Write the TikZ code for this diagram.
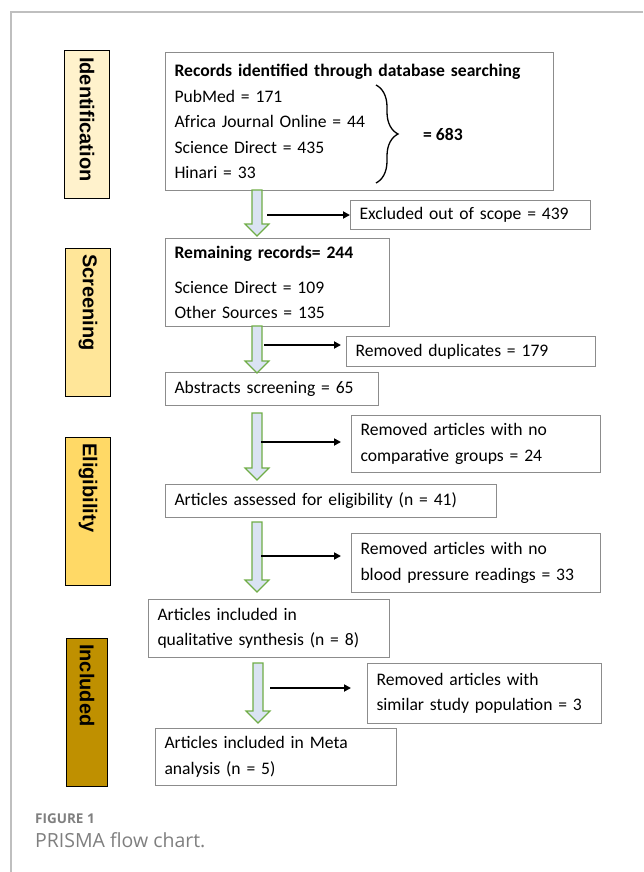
\documentclass[tikz,border=0pt]{standalone}
\usepackage{fontspec}
\setmainfont{Carlito}
\newfontfamily\labelfont{Liberation Sans}
\newfontfamily\capfont{Open Sans}
\usetikzlibrary{positioning,calc,arrows.meta,decorations.pathreplacing}
\tikzset{>={Triangle[length=7pt,width=7pt]}}
\definecolor{boxgray}{HTML}{8C8C8C}
\definecolor{framegray}{HTML}{BFBFBF}
\definecolor{capgray}{HTML}{7F7F7F}
\definecolor{idfill}{HTML}{FFF2CC}
\definecolor{scrfill}{HTML}{FFE699}
\definecolor{elifill}{HTML}{FFD966}
\definecolor{incfill}{HTML}{BF9000}
\definecolor{arrowgreen}{HTML}{70AD47}
\definecolor{arrowblue}{HTML}{DAE3F3}
\tikzset{
  box/.style={draw=boxgray,line width=1pt,anchor=north west,align=left,
    inner xsep=9pt,inner ysep=0pt,font=\fontsize{17.6}{25.5}\selectfont},
  stage/.style={draw=black,line width=1.2pt,anchor=north west,inner sep=0pt,
    minimum width=45pt,minimum height=148pt},
  stagetext/.style={rotate=-90,anchor=west,inner sep=0pt,
    font=\labelfont\bfseries\fontsize{20}{20}\selectfont},
  hollow/.style={draw=arrowgreen,fill=arrowblue,line width=1.2pt},
  side/.style={->,line width=2pt}
}
\newcommand\blockarrow[2]{%
  \draw[hollow] let \p1=(#1),\p2=(#2) in
    (\x1-5pt,\y1) -- (\x1-5pt,\y2+12pt) -- (\x1-12pt,\y2+12pt) -- (\x1,\y2)
    -- (\x1+12pt,\y2+12pt) -- (\x1+5pt,\y2+12pt) -- (\x1+5pt,\y1) -- cycle;}

\begin{document}
\begin{tikzpicture}[x=1pt,y=-1pt]
\useasboundingbox (0,0) rectangle (643,872);
\draw[framegray,line width=1.2pt] (643,12) -- (11,12) -- (11,872);

\node[stage,fill=idfill] (ident) at (64,50) {};
\node[stagetext] at ([yshift=-7pt]ident.north) {Identification};
\node[stage,fill=scrfill] (screen) at (65,248) {};
\node[stagetext] at ([yshift=-6pt]screen.north) {Screening};
\node[stage,fill=elifill] (elig) at (65,437) {};
\node[stagetext] at ([yshift=-6pt]elig.north) {Eligibility};
\node[stage,fill=incfill,minimum width=41pt] (incl) at (66,638) {};
\node[stagetext] at ([yshift=-6pt]incl.north) {Included};

\node[box,text width=370pt,minimum height=138pt] (rec) at (165,52)
  {{\bfseries Records identified through database searching}\\
   PubMed = 171\\ Africa Journal Online = 44\\ Science Direct = 435\\ Hinari = 33};
\coordinate (bt) at (376,85);
\coordinate (bb) at (376,183);
\draw[decorate,decoration={brace,amplitude=22pt},line width=1.3pt] (bt) -- (bb);
\node[anchor=west,inner sep=0pt,font=\bfseries\fontsize{17.6}{18}\selectfont] (total) at (423,134) {= 683};

\node[box,text width=222pt,minimum height=29pt] (excl) at (350,200) {Excluded out of scope = 439};
\node[box,text width=206pt,minimum height=88pt] (rem) at (165,238)
  {{\bfseries Remaining records= 244}\\[9pt] Science Direct = 109\\ Other Sources = 135};
\node[box,text width=231pt,minimum height=30pt] (dup) at (346,336) {Removed duplicates = 179};
\node[box,text width=195pt,minimum height=33pt] (abs) at (165,372) {Abstracts screening = 65};
\node[box,text width=231pt,minimum height=57pt] (comp) at (351,415)
  {Removed articles with no\\ comparative groups = 24};
\node[box,text width=313pt,minimum height=33pt] (assess) at (165,484) {Articles assessed for eligibility (n = 41)};
\node[box,text width=231pt,minimum height=59pt] (bp) at (351,533)
  {Removed articles with no\\ blood pressure readings = 33};
\node[box,text width=223pt,minimum height=58pt] (qual) at (148,599)
  {Articles included in\\ qualitative synthesis (n = 8)};
\node[box,text width=216pt,minimum height=60pt] (simil) at (367,663)
  {Removed articles with\\ similar study population = 3};
\node[box,text width=223pt,minimum height=57pt] (meta) at (155,728)
  {Articles included in Meta\\ analysis (n = 5)};

\coordinate (top1) at (257,190);  \coordinate (tip1) at (257,236);
\coordinate (top2) at (257,326);  \coordinate (tip2) at (257,373);
\coordinate (top3) at (257,413);  \coordinate (tip3) at (257,480);
\coordinate (top4) at (257,522);  \coordinate (tip4) at (257,592);
\coordinate (top5) at (258,663);  \coordinate (tip5) at (258,723);
\blockarrow{top1}{tip1}
\blockarrow{top2}{tip2}
\blockarrow{top3}{tip3}
\blockarrow{top4}{tip4}
\blockarrow{top5}{tip5}

\coordinate (s1) at (267,215);
\coordinate (s2) at (264,345);
\coordinate (s3) at (261,442);
\coordinate (s4) at (261,556);
\coordinate (s5) at (270,688);
\draw[side] (s1) -- (s1 -| excl.west);
\draw[side,shorten >=5pt] (s2) -- (s2 -| dup.west);
\draw[side,shorten >=10pt] (s3) -- (s3 -| comp.west);
\draw[side,shorten >=10pt] (s4) -- (s4 -| bp.west);
\draw[side,shorten >=16pt] (s5) -- (s5 -| simil.west);

\node[anchor=base west,inner sep=0pt,text=capgray,font=\capfont\bfseries\fontsize{13.5}{16}\selectfont] (fig) at (35,823) {FIGURE 1};
\node[anchor=base west,inner sep=0pt,text=capgray,font=\capfont\fontsize{19.5}{22}\selectfont] (capt) at (35,847) {PRISMA flow chart.};
\end{tikzpicture}
\end{document}
